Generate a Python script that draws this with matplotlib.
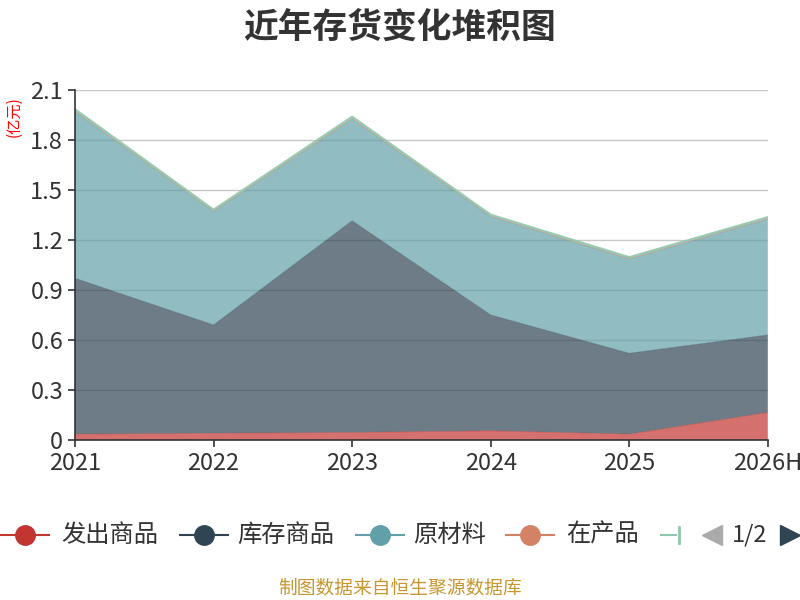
import numpy as np
import matplotlib.pyplot as plt
from matplotlib.lines import Line2D

plt.rcParams['font.family'] = ['Noto Sans CJK SC', 'DejaVu Sans']

years = ['2021', '2022', '2023', '2024', '2025', '2026H']
# 亿元
fachu = [0.035, 0.040, 0.045, 0.055, 0.035, 0.165]
kucun = [0.935, 0.650, 1.270, 0.695, 0.485, 0.465]
yuancailiao = [1.000, 0.680, 0.610, 0.590, 0.565, 0.695]
zaichan = [0.005, 0.004, 0.005, 0.004, 0.004, 0.004]
other = [0.010, 0.008, 0.010, 0.008, 0.008, 0.008]

names = ['发出商品', '库存商品', '原材料', '在产品', '']
colors = ['#c23531', '#2f4554', '#61a0a8', '#d48265', '#91c7ae']
series = [fachu, kucun, yuancailiao, zaichan, other]

fig = plt.figure(figsize=(8, 6), dpi=100)
ax = fig.add_axes([0.09375, 0.2667, 0.866, 0.5833])

x = np.arange(len(years))
ax.stackplot(x, series, colors=colors, alpha=0.7, linewidth=0, zorder=2)
cum = np.cumsum(np.array(series), axis=0)
for i in range(len(series)):
    ax.plot(x, cum[i], color=colors[i], lw=0.5 if i < 4 else 1.5,
            alpha=0.5 if i < 4 else 0.9, zorder=3)

ax.set_xlim(0, 5)
ax.set_ylim(0, 2.1)
ax.set_yticks([0, 0.3, 0.6, 0.9, 1.2, 1.5, 1.8, 2.1])
ax.set_yticklabels(['0', '0.3', '0.6', '0.9', '1.2', '1.5', '1.8', '2.1'])
ax.set_xticks(x)
ax.set_xticklabels(years)
ax.tick_params(labelsize=17, colors='#333333', length=5, width=1.2)
ax.grid(axis='y', color='#c8c8c8', lw=1, zorder=1)
ax.set_axisbelow(True)
for s in ['top', 'right']:
    ax.spines[s].set_visible(False)
for s in ['left', 'bottom']:
    ax.spines[s].set_color('#333333')
    ax.spines[s].set_linewidth(1.2)
    ax.spines[s].set_zorder(4)

fig.text(0.5, 0.955, '近年存货变化堆积图', ha='center', va='center',
         fontsize=25, fontweight='bold', color='#333333')
fig.text(0.017, 0.805, '(亿元)', rotation=90, ha='center', va='center',
         fontsize=11, color='#ff0000')

# legend
ly = 1 - 535 / 600
items = [(25, 61), (204, 237), (380, 413), (530, 566)]
for (cx, tx), c, n in zip(items, colors, names):
    fig.add_artist(Line2D([(cx - 24) / 800, (cx + 24) / 800], [ly, ly],
                          color=c, lw=1.5))
    fig.add_artist(Line2D([cx / 800], [ly], marker='o', markersize=14,
                          color=c, lw=0))
    fig.text(tx / 800, ly, n, ha='left', va='center', fontsize=17.5,
             color='#333333')
fig.add_artist(Line2D([661 / 800, 676 / 800], [ly, ly], color=colors[4], lw=1.5))
fig.add_artist(Line2D([679 / 800, 679 / 800], [ly - 0.013, ly + 0.013],
                      color=colors[4], lw=2))
fig.add_artist(Line2D([712 / 800], [ly], marker='<', markersize=15,
                      color='#aaaaaa', lw=0))
fig.text(750 / 800, ly, '1/2', ha='center', va='center', fontsize=17,
         color='#333333')
fig.add_artist(Line2D([790 / 800], [ly], marker='>', markersize=15,
                      color='#2f4554', lw=0))

fig.text(0.5, 1 - 588 / 600, '制图数据来自恒生聚源数据库', ha='center',
         va='center', fontsize=13.5, color='#c8962e')

fig.savefig('out.png', dpi=100)
